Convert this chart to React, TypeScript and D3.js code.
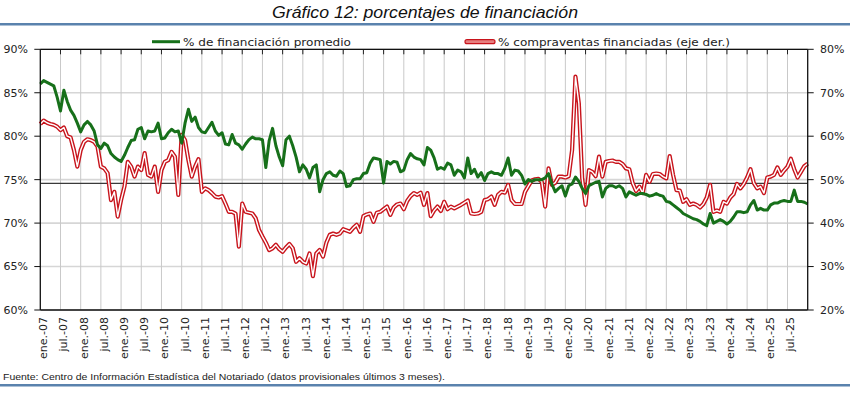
import * as d3 from "d3";

const tickLabels = [
  "ene.-07", "jul.-07", "ene.-08", "jul.-08", "ene.-09", "jul.-09", "ene.-10", "jul.-10",
  "ene.-11", "jul.-11", "ene.-12", "jul.-12", "ene.-13", "jul.-13", "ene.-14", "jul.-14",
  "ene.-15", "jul.-15", "ene.-16", "jul.-16", "ene.-17", "jul.-17", "ene.-18", "jul.-18",
  "ene.-19", "jul.-19", "ene.-20", "jul.-20", "ene.-21", "jul.-21", "ene.-22", "jul.-22",
  "ene.-23", "jul.-23", "ene.-24", "jul.-24", "ene.-25", "jul.-25",
];

// % de financiación promedio (eje izq.), mensual desde ene-07
const financiacionPromedio = [
  86.0, 86.4, 86.2, 86.0, 85.8, 84.5, 82.9, 85.3, 84.0, 83.0, 82.4, 81.5,
  80.5, 81.3, 81.7, 81.3, 80.6, 79.0, 78.6, 79.2, 78.9, 78.0, 77.6, 77.3,
  77.1, 77.8, 78.7, 79.5, 79.6, 80.8, 81.0, 79.7, 80.6, 80.5, 80.6, 81.5,
  79.7, 79.8, 80.4, 80.8, 80.5, 80.6, 79.2, 81.5, 83.1, 81.7, 82.2, 81.0,
  80.5, 80.4, 81.0, 81.6, 80.6, 80.1, 80.4, 79.1, 79.0, 80.2, 79.2, 79.0,
  78.5, 79.1, 79.6, 79.9, 79.7, 79.7, 79.6, 76.4, 79.5, 80.9, 78.9, 77.6,
  76.6, 79.6, 80.0, 78.9, 77.6, 75.9, 76.7, 76.2, 75.2, 76.4, 76.7, 73.6,
  75.0, 75.7, 75.9, 75.5, 75.4, 76.0, 75.7, 74.2, 74.3, 75.0, 75.1, 75.1,
  75.7, 75.8, 76.9, 77.5, 77.4, 77.3, 74.6, 77.1, 76.8, 77.1, 77.0, 75.9,
  76.1, 77.3, 78.0, 77.6, 77.4, 77.3, 76.7, 78.7, 78.4, 77.5, 76.2, 76.4,
  76.2, 76.9, 76.7, 75.5, 76.1, 75.9, 75.2, 77.5, 75.7, 76.2, 75.3, 75.8,
  74.9, 75.7, 75.9, 75.7, 75.7, 75.5, 76.3, 77.5, 75.5, 76.1, 76.0, 75.5,
  74.5, 75.0, 74.8, 75.0, 75.0, 75.0, 75.2, 75.7, 74.5, 73.6, 74.0, 74.3,
  73.1, 74.3, 74.5, 75.3, 74.8, 74.0, 73.4, 74.3, 74.5, 74.7, 74.8, 73.0,
  74.0, 74.3, 74.3, 74.1, 74.3, 74.0, 73.0, 73.6, 73.4, 73.2, 73.4, 73.4,
  73.3, 73.1, 73.2, 73.4, 73.2, 73.1, 72.5, 72.4, 72.1, 71.8, 71.5, 71.1,
  70.9, 70.7, 70.5, 70.4, 70.2, 69.9, 69.7, 71.1, 70.0, 70.2, 70.4, 70.2,
  69.9, 70.2, 70.7, 71.3, 71.3, 71.2, 71.3, 72.1, 72.6, 71.5, 71.7, 71.5,
  71.5, 72.1, 72.3, 72.3, 72.5, 72.6, 72.5, 72.5, 73.8, 72.5, 72.5, 72.4,
  72.2,
];

// % compraventas financiadas (eje der.)
const compraventasFinanciadas = [
  62.8, 63.6, 63.1, 62.8, 62.6, 62.2, 61.4, 62.0, 60.0, 59.7, 56.8, 53.0,
  56.8, 58.7, 59.3, 59.1, 58.7, 57.6, 53.0, 52.6, 51.5, 45.3, 47.2, 41.5,
  45.3, 48.4, 54.1, 53.0, 50.7, 53.0, 52.2, 56.1, 51.1, 50.7, 53.0, 47.2,
  52.2, 54.1, 54.5, 56.4, 55.3, 46.5, 60.3, 59.1, 54.5, 50.7, 53.0, 54.7,
  47.2, 48.0, 47.6, 46.9, 46.1, 45.9, 46.2, 44.5, 42.6, 42.6, 42.2, 34.6,
  44.5, 42.6, 42.4, 42.2, 41.1, 38.4, 36.9, 35.5, 33.8, 34.2, 35.0, 34.0,
  33.4, 34.4, 35.2, 34.2, 31.1, 31.9, 31.1, 30.7, 33.0, 27.8, 33.0, 33.8,
  32.3, 35.5, 37.3, 37.6, 37.3, 37.6, 38.6, 38.3, 38.0, 38.9, 39.6, 38.0,
  41.6, 42.0, 42.2, 40.3, 42.4, 42.6, 43.2, 43.8, 41.9, 43.6, 44.3, 44.5,
  43.2, 45.1, 46.2, 46.9, 46.5, 47.0, 44.2, 46.9, 41.6, 42.9, 43.8, 42.8,
  44.9, 43.2, 43.8, 43.4, 43.8, 44.2, 44.7, 45.2, 42.2, 42.1, 42.2, 42.6,
  45.3, 45.5, 46.1, 44.2, 46.5, 47.2, 47.0, 48.8, 45.3, 44.4, 44.4, 44.4,
  47.2, 48.5, 49.8, 50.1, 50.2, 49.5, 43.8, 52.6, 48.8, 49.3, 50.7, 50.7,
  50.5, 50.8, 56.8, 73.7, 67.6, 50.3, 44.2, 52.2, 51.8, 50.8, 55.3, 50.7,
  54.1, 54.3, 54.4, 54.1, 54.1, 53.6, 52.6, 52.4, 49.2, 47.4, 48.4, 46.9,
  51.1, 49.5, 51.3, 51.4, 51.3, 50.7, 50.3, 55.4, 51.1, 47.6, 47.5, 44.9,
  45.5, 44.2, 44.5, 44.2, 43.6, 44.4, 45.9, 48.8, 42.6, 42.9, 42.6, 44.9,
  44.5, 45.9, 46.7, 49.0, 48.0, 49.0, 50.5, 52.4, 49.2, 48.0, 48.4, 46.9,
  50.5, 50.7, 51.1, 52.8, 51.1, 52.1, 53.0, 54.8, 52.4, 50.5, 51.8, 53.1,
  53.7,
];

const leftTicks = [60, 65, 70, 75, 80, 85, 90];
const rightTicks = [20, 30, 40, 50, 60, 70, 80];
const referenceLevel = 74.58; // línea horizontal (eje izq.)

const W = 850;
const H = 396;
const plot = { left: 40.3, right: 807.7, top: 49.3, bottom: 310 };
const FONT = "'DejaVu Sans', Verdana, sans-serif";

export default function App() {
  const nMonths = tickLabels.length * 6; // hasta ene-26
  const x = d3.scaleLinear().domain([0, nMonths]).range([plot.left, plot.right]);
  const yL = d3.scaleLinear().domain([60, 90]).range([plot.bottom, plot.top]);
  const yR = d3.scaleLinear().domain([20, 80]).range([plot.bottom, plot.top]);

  const greenLine = d3
    .line<number>()
    .x((_, i) => x(i))
    .y((d) => yL(d));
  const redLine = d3
    .line<number>()
    .x((_, i) => x(i))
    .y((d) => yR(d));

  const vGrid = d3.range(1, tickLabels.length).map((k) => k * 6);

  return (
    <div style={{ position: "absolute", left: 0, top: 0 }}>
      <svg width={W} height={H} style={{ display: "block", background: "#fff" }}>
        {/* Title */}
        <text
          x={425}
          y={18}
          textAnchor="middle"
          fontFamily="'Liberation Sans', Arial, sans-serif"
          fontStyle="italic"
          fontSize={16.5}
          fill="#111"
          textLength={306}
          lengthAdjust="spacingAndGlyphs"
        >
          Gráfico 12: porcentajes de financiación
        </text>
        <rect x={0} y={23} width={W} height={2.5} fill="#5a82ad" />

        {/* Grid */}
        {leftTicks.map((t) => (
          <line
            key={"h" + t}
            x1={plot.left}
            x2={plot.right}
            y1={yL(t)}
            y2={yL(t)}
            stroke="#d6d6d6"
            strokeWidth={1.6}
          />
        ))}
        {vGrid.map((m) => (
          <line
            key={"v" + m}
            x1={x(m)}
            x2={x(m)}
            y1={plot.top}
            y2={plot.bottom}
            stroke="#c9c9c9"
            strokeWidth={1}
          />
        ))}
        {vGrid.map((m) => (
          <line
            key={"t" + m}
            x1={x(m)}
            x2={x(m)}
            y1={plot.top}
            y2={plot.top + 5}
            stroke="#222"
            strokeWidth={1}
          />
        ))}

        {/* Reference line */}
        <line
          x1={plot.left}
          x2={plot.right}
          y1={yL(referenceLevel)}
          y2={yL(referenceLevel)}
          stroke="#3a3a3a"
          strokeWidth={1.2}
        />

        {/* Red series (double line) */}
        <path
          d={redLine(compraventasFinanciadas) ?? ""}
          fill="none"
          stroke="#c8141c"
          strokeWidth={4.2}
          strokeLinejoin="round"
        />
        <path
          d={redLine(compraventasFinanciadas) ?? ""}
          fill="none"
          stroke="#fff"
          strokeWidth={1.4}
          strokeLinejoin="round"
        />

        {/* Green series */}
        <path
          d={greenLine(financiacionPromedio) ?? ""}
          fill="none"
          stroke="#17701a"
          strokeWidth={3}
          strokeLinejoin="round"
        />

        {/* Axes frame */}
        <line x1={plot.left} x2={plot.right} y1={plot.top} y2={plot.top} stroke="#111" strokeWidth={1.3} />
        <line x1={plot.left} x2={plot.right} y1={plot.bottom} y2={plot.bottom} stroke="#111" strokeWidth={1.3} />
        <line x1={plot.left} x2={plot.left} y1={plot.top} y2={plot.bottom} stroke="#111" strokeWidth={1.3} />
        <line x1={plot.right} x2={plot.right} y1={plot.top} y2={plot.bottom} stroke="#111" strokeWidth={1.3} />

        {/* Left axis */}
        {leftTicks.map((t) => (
          <g key={"l" + t}>
            <line x1={plot.left - 6} x2={plot.left} y1={yL(t)} y2={yL(t)} stroke="#111" />
            <text
              x={28}
              y={yL(t)}
              dy="0.35em"
              textAnchor="end"
              fontFamily={FONT}
              fontSize={11}
              fill="#222"
            >
              {t}%
            </text>
          </g>
        ))}

        {/* Right axis */}
        {rightTicks.map((t) => (
          <g key={"r" + t}>
            <line x1={plot.right} x2={plot.right + 6} y1={yR(t)} y2={yR(t)} stroke="#111" />
            <text
              x={820}
              y={yR(t)}
              dy="0.35em"
              textAnchor="start"
              fontFamily={FONT}
              fontSize={11}
              fill="#222"
            >
              {t}%
            </text>
          </g>
        ))}

        {/* X labels */}
        {tickLabels.map((lab, k) => {
          const px = x(k * 6) + 3;
          const py = 317;
          return (
            <text
              key={lab}
              transform={`translate(${px},${py}) rotate(-90)`}
              textAnchor="end"
              dy="0.35em"
              fontFamily={FONT}
              fontSize={11}
              fill="#222"
            >
              {lab}
            </text>
          );
        })}

        {/* Legend */}
        <line x1={152} x2={180} y1={41.7} y2={41.7} stroke="#17701a" strokeWidth={3} />
        <text x={183} y={41.7} dy="0.35em" fontFamily={FONT} fontSize={11} fill="#222" textLength={168} lengthAdjust="spacingAndGlyphs">
          % de financiación promedio
        </text>
        <rect x={465} y={39.7} width={30} height={4} rx={2} fill="#e67f7f" stroke="#c8141c" strokeWidth={1.2} />
        <text x={498} y={41.7} dy="0.35em" fontFamily={FONT} fontSize={11} fill="#222" textLength={232} lengthAdjust="spacingAndGlyphs">
          % compraventas financiadas (eje der.)
        </text>

        {/* Footer */}
        <text
          x={3}
          y={380}
          fontFamily="'Liberation Sans', Arial, sans-serif"
          fontSize={9.5}
          fill="#222"
          textLength={442}
          lengthAdjust="spacingAndGlyphs"
        >
          Fuente: Centro de Información Estadística del Notariado (datos provisionales últimos 3 meses).
        </text>
        <rect x={0} y={384} width={W} height={2.5} fill="#5a82ad" />
      </svg>
    </div>
  );
}
